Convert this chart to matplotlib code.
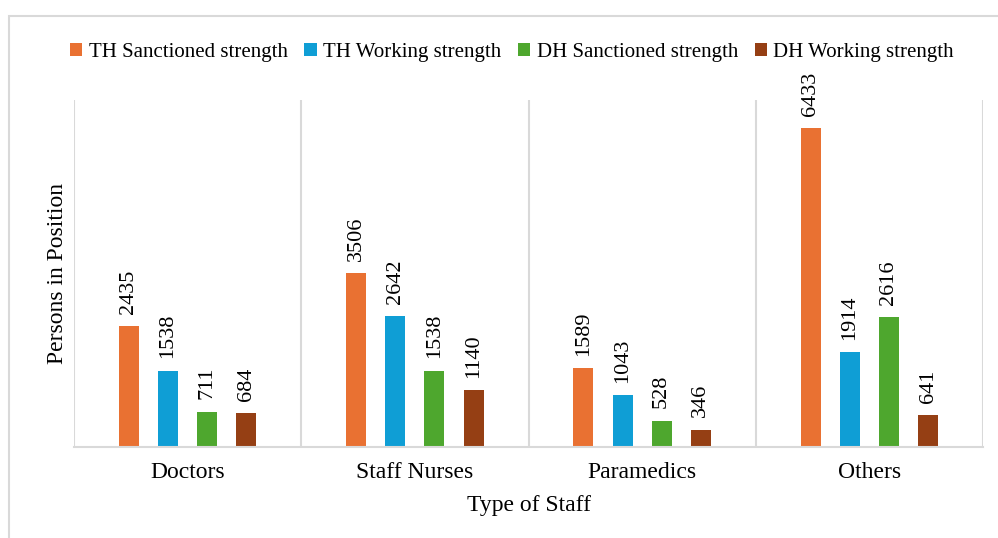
import matplotlib.pyplot as plt
import numpy as np
from matplotlib.patches import Rectangle

# Datos
categorias = ["Doctors", "Staff Nurses", "Paramedics", "Others"]
series = ["TH Sanctioned strength", "TH Working strength",
          "DH Sanctioned strength", "DH Working strength"]
th_sanctioned = [2435, 3506, 1589, 6433]
th_working = [1538, 2642, 1043, 1914]
dh_sanctioned = [711, 1538, 528, 2616]
dh_working = [684, 1140, 346, 641]
colores = ["#E97132", "#0F9ED5", "#4EA72E", "#953F14"]

plt.rcParams['font.family'] = ['Liberation Serif', 'DejaVu Serif']

fig = plt.figure(figsize=(9.98, 5.38), dpi=100)
ax = fig.add_axes([74 / 998, 1 - 447 / 538, (983 - 74) / 998, (447 - 100) / 538])

# Marco gris alrededor de la figura
fig.patches.append(Rectangle((9 / 998, -0.05), 1.0, 1 - 16 / 538 + 0.05,
                             transform=fig.transFigure, fill=False,
                             edgecolor="#D9D9D9", linewidth=1.5))

x = np.arange(len(categorias))
ancho = 0.088
paso = 0.172
valores = [th_sanctioned, th_working, dh_sanctioned, dh_working]
for i, (nombre, vals, c) in enumerate(zip(series, valores, colores)):
    pos = x + (i - 1.5) * paso
    barras = ax.bar(pos, vals, width=ancho, color=c, label=nombre)
    for b, v in zip(barras, vals):
        ax.annotate(str(v), (b.get_x() + b.get_width() / 2, v),
                    xytext=(0, 9), textcoords="offset points",
                    rotation=90, ha="center", va="bottom", fontsize=16)

ax.set_xlim(-0.5, len(categorias) - 0.5)
ax.set_ylim(0, 7000)
ax.set_yticks([])
ax.set_xticks(x)
ax.set_xticklabels(categorias, fontsize=17)
ax.tick_params(axis="x", length=0, pad=11)

# Separadores verticales entre grupos
for s in np.arange(-0.5, len(categorias), 1.0):
    ax.axvline(s, color="#D9D9D9", linewidth=1.5, zorder=0)

for lado in ["top", "right", "left"]:
    ax.spines[lado].set_visible(False)
ax.spines["bottom"].set_color("#D9D9D9")
ax.spines["bottom"].set_linewidth(1.5)

fig.text(529 / 998, 1 - 511 / 538, "Type of Staff", fontsize=17,
         ha="center", va="baseline")
fig.text(58 / 998, 1 - 274 / 538, "Persons in Position", fontsize=17,
         rotation=90, ha="center", va="center")

fig.legend(loc="center", bbox_to_anchor=(512 / 998, 1 - 52 / 538), ncol=4,
           frameon=False, fontsize=15, handlelength=0.6, handleheight=0.6,
           handletextpad=0.3, columnspacing=0.8)

fig.savefig("out.png", dpi=100)
